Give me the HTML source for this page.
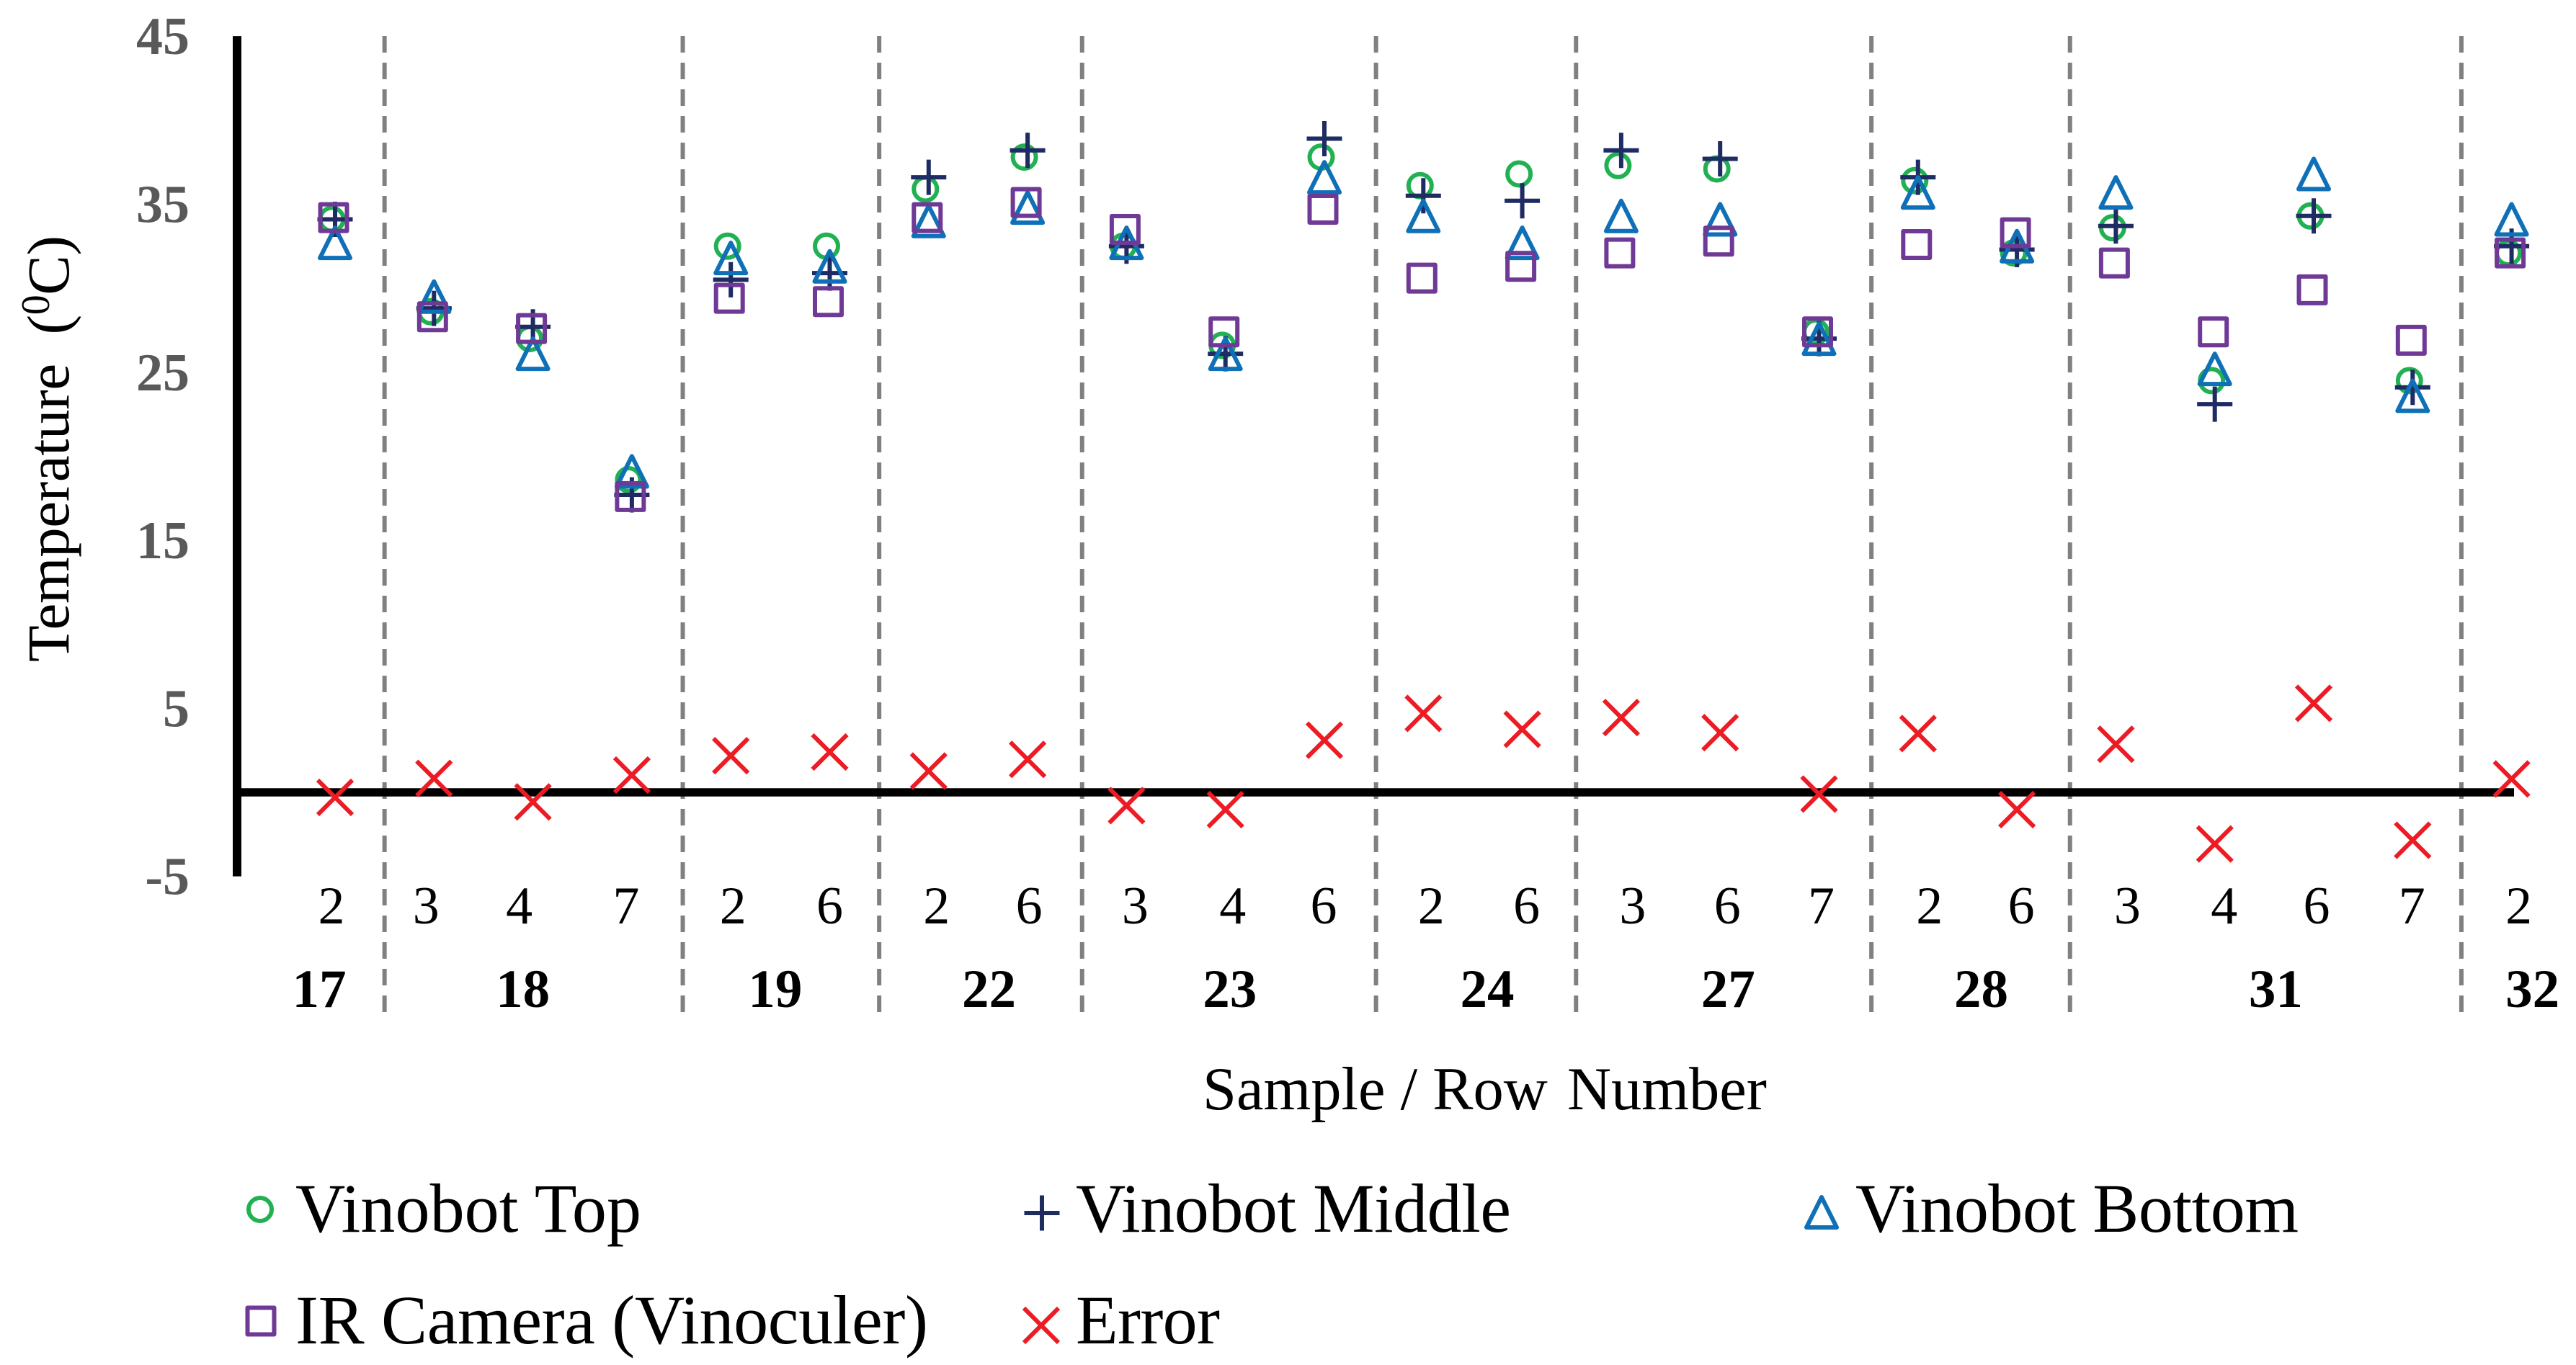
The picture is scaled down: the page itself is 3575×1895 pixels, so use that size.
<!DOCTYPE html>
<html lang="en">
<head>
<meta charset="utf-8">
<title>Temperature by Sample and Row</title>
<style>
html,body{margin:0;padding:0;background:#fff;}
svg{display:block;}
text{font-family:"Liberation Serif",serif;}
</style>
</head>
<body>
<svg id="chart" width="3575" height="1895" viewBox="0 0 3575 1895" xmlns="http://www.w3.org/2000/svg">
  <rect x="0" y="0" width="3575" height="1895" fill="#ffffff"/>
  <g id="separators"></g>
  <g id="axes"></g>
  <g id="y-ticks"></g>
  <g id="row-labels"></g>
  <g id="group-labels"></g>
  <g id="marks"></g>

  <text transform="translate(95,919) rotate(-90)" font-size="83" fill="#000" xml:space="preserve" textLength="592" lengthAdjust="spacing">Temperature  (<tspan dy="-27" font-size="56">0</tspan><tspan dy="27">C)</tspan></text>
  <text x="1669" y="1540" font-size="84.5" fill="#000">Sample / Row <tspan dx="6">Number</tspan></text>

  <g fill="none">
    <g>
      <circle cx="361" cy="1679" r="16" stroke="#21B152" stroke-width="6"/>
      <text x="410" y="1710" font-size="96" fill="#000" textLength="480" lengthAdjust="spacing">Vinobot Top</text>
    </g>
    <g>
      <path d="M1421.5 1684H1470.5M1446 1659.5V1708.5" stroke="#1F2B63" stroke-width="6"/>
      <text x="1493" y="1710" font-size="96" fill="#000" textLength="604" lengthAdjust="spacing">Vinobot Middle</text>
    </g>
    <g>
      <path d="M2528 1662L2549 1704H2507Z" stroke="#0F70B7" stroke-width="6" stroke-linejoin="round"/>
      <text x="2575" y="1710" font-size="96" fill="#000" textLength="615" lengthAdjust="spacing">Vinobot Bottom</text>
    </g>
    <g>
      <rect x="343.5" y="1815.5" width="37" height="37" stroke="#6F3996" stroke-width="6" stroke-linejoin="round"/>
      <text x="410" y="1865" font-size="96" fill="#000" textLength="878" lengthAdjust="spacing">IR Camera (Vinoculer)</text>
    </g>
    <g>
      <path d="M1421 1816L1469 1864M1469 1816L1421 1864" stroke="#ED1C24" stroke-width="6"/>
      <text x="1493" y="1865" font-size="96" fill="#000" textLength="200" lengthAdjust="spacing">Error</text>
    </g>
  </g>
</svg>

<script>
// ---- chart data ----
const yTickValues = [45, 35, 25, 15, 5, -5];
const rowLabels = [2,3,4,7,2,6,2,6,3,4,6,2,6,3,6,7,2,6,3,4,6,7,2];
const sampleNames = ["17","18","19","22","23","24","27","28","31","32"];
const sampleRowCounts = [1,3,2,2,3,2,3,2,4,1];

const vinobotTop    = [34.1,28.6,27.0,18.6,32.5,32.5,35.9,37.8,32.5,26.6,37.8,36.1,36.8,37.3,37.1,27.4,36.4,32.1,33.6,24.5,34.3,24.5,32.1];
const vinobotMiddle = [34.1,28.8,27.7,17.7,30.5,30.9,36.6,38.2,32.5,26.1,38.9,35.5,35.2,38.2,37.7,27.0,36.6,32.3,33.7,23.1,34.3,24.1,32.5];
const vinobotBottom = [32.7,29.5,26.1,19.1,31.8,31.3,34.0,34.8,32.7,26.1,36.6,34.3,32.7,34.3,34.1,27.0,35.7,32.5,35.7,25.2,36.8,23.6,34.1];
const irCamera      = [34.2,28.3,27.6,17.6,29.4,29.2,34.2,35.1,33.5,27.4,34.7,30.6,31.3,32.1,32.8,27.4,32.6,33.3,31.5,27.4,29.9,26.9,32.1];
const errorValues   = [-0.3,0.83,-0.57,1.03,2.18,2.4,1.27,1.96,-0.79,-1.03,3.1,4.7,3.75,4.45,3.55,-0.1,3.5,-1.03,2.86,-3.07,5.3,-2.85,0.8];

// ---- layout (hand placement of the original's text boxes, not data) ----
const rowLabelNudge = [-5,-11,-19,-8,3,0,11,2,12,10,-1,11,6,16,10,3,16,6,16,13,4,-1,10];
const sampleLabelNudge = [-22,-14,-7,15,6,20,11,19,16,29];
const separatorNudge = [0,2,0,7,3,6,4,5,-1];

const NS = "http://www.w3.org/2000/svg";
const xScale = i => 465 + 137.3 * i;
const yScale = v => 1100 - 23.33 * v;

function make(parent, tag, attrs) {
  const el = document.createElementNS(NS, tag);
  for (const k in attrs) el.setAttribute(k, attrs[k]);
  parent.appendChild(el);
  return el;
}

// separators
const sepGroup = document.getElementById("separators");
let runningCount = 0;
sampleRowCounts.slice(0, -1).forEach((n, idx) => {
  runningCount += n;
  const sx = xScale(runningCount - 0.5) + separatorNudge[idx];
  const line = make(sepGroup, "line", {x1: sx, x2: sx, y1: 50, y2: 1410, stroke: "#808080", "stroke-width": 6, "stroke-dasharray": "23 14"});
  
  
});

// axes
const axesGroup = document.getElementById("axes");
const yAxisLine = make(axesGroup, "line", {x1: 329, x2: 329, y1: yScale(45), y2: yScale(-5), stroke: "#000", "stroke-width": 12});


const xAxisLine = make(axesGroup, "line", {x1: 323, x2: 3489, y1: yScale(0), y2: yScale(0), stroke: "#000", "stroke-width": 11.5});



// y ticks
const yTickGroup = document.getElementById("y-ticks");
yTickValues.forEach(v => {
  const t = make(yTickGroup, "text", {x: 263, y: yScale(v) + 25, "text-anchor": "end", "font-size": 74, "font-weight": "bold", fill: "#595959"});
  t.textContent = String(v);
  
  
});

// row labels
const rowGroup = document.getElementById("row-labels");
rowLabels.forEach((r, i) => {
  const t = make(rowGroup, "text", {x: xScale(i) + rowLabelNudge[i], y: 1282, "text-anchor": "middle", "font-size": 74, fill: "#000"});
  t.textContent = String(r);
  
  
});

// sample labels
const sampleGroup = document.getElementById("group-labels");
let startIndex = 0;
sampleNames.forEach((s, idx) => {
  const mid = startIndex + (sampleRowCounts[idx] - 1) / 2;
  startIndex += sampleRowCounts[idx];
  const t = make(sampleGroup, "text", {x: xScale(mid) + sampleLabelNudge[idx], y: 1398, "text-anchor": "middle", "font-size": 75, "font-weight": "bold", fill: "#000"});
  t.textContent = s;
  
  
});

// series marks
const marks = document.getElementById("marks");

const topGroup = make(marks, "g", {fill: "none", stroke: "#21B152", "stroke-width": 6});


vinobotTop.forEach((v, i) => {
  const m = make(topGroup, "circle", {cx: xScale(i) - 4.5, cy: yScale(v), r: 16});
  
  
});

const middleGroup = make(marks, "g", {fill: "none", stroke: "#1F2B63", "stroke-width": 6});


vinobotMiddle.forEach((v, i) => {
  const cx = xScale(i), cy = yScale(v);
  const m = make(middleGroup, "path", {d: `M${cx - 24.5} ${cy}H${cx + 24.5}M${cx} ${cy - 24.5}V${cy + 24.5}`});
  
  
});

const bottomGroup = make(marks, "g", {fill: "none", stroke: "#0F70B7", "stroke-width": 6, "stroke-linejoin": "round"});


vinobotBottom.forEach((v, i) => {
  const cx = xScale(i), cy = yScale(v);
  const m = make(bottomGroup, "path", {d: `M${cx} ${cy - 21}L${cx + 21} ${cy + 21}H${cx - 21}Z`});
  
  
});

const irGroup = make(marks, "g", {fill: "none", stroke: "#6F3996", "stroke-width": 6, "stroke-linejoin": "round"});


irCamera.forEach((v, i) => {
  const m = make(irGroup, "rect", {x: xScale(i) - 2 - 18.5, y: yScale(v) - 18.5, width: 37, height: 37});
  
  
});

const errorGroup = make(marks, "g", {fill: "none", stroke: "#ED1C24", "stroke-width": 6});


errorValues.forEach((v, i) => {
  const cx = xScale(i), cy = yScale(v);
  const m = make(errorGroup, "path", {d: `M${cx - 24} ${cy - 24}L${cx + 24} ${cy + 24}M${cx + 24} ${cy - 24}L${cx - 24} ${cy + 24}`});
  
  
});
</script>
</body>
</html>
